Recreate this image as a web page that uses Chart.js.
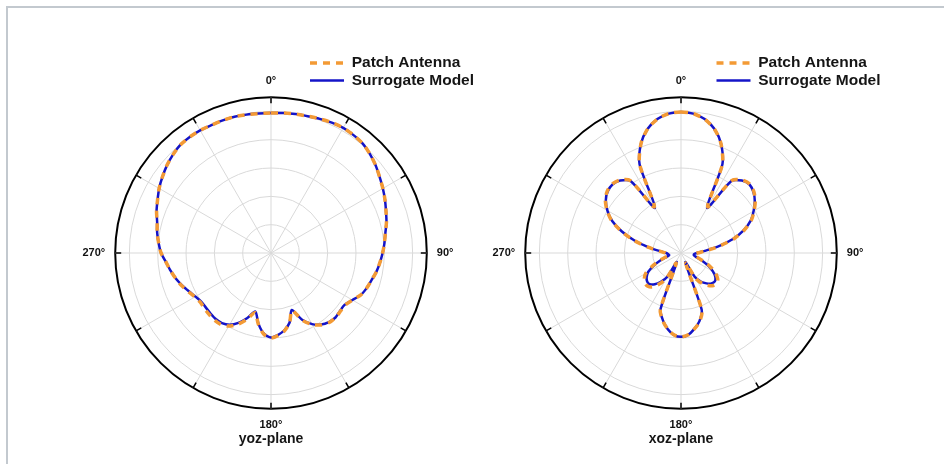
<!DOCTYPE html>
<html>
<head>
<meta charset="utf-8">
<script src="https://cdn.jsdelivr.net/npm/chart.js@4/dist/chart.umd.min.js"></script>
<style>
  html, body { margin: 0; padding: 0; background: #ffffff; }
  body { width: 944px; height: 464px; position: relative; overflow: hidden; }
  #frame { position: absolute; left: 6px; top: 6px; width: 940px; height: 460px;
           border-left: 2px solid #c3c9cf; border-top: 2px solid #c3c9cf; }
  canvas { position: absolute; }
  #yoz { left: 51px; top: 50px; width: 440px; height: 396px; }
  #xoz { left: 461px; top: 50px; width: 440px; height: 396px; }
</style>
</head>
<body>
<div id="frame"></div>
<canvas id="yoz" width="440" height="396"></canvas>
<canvas id="xoz" width="440" height="396"></canvas>
<script>
// ---- data (normalized gain, dB) ----
const angles = [0,5,10,15,20,25,30,35,40,45,50,55,60,65,70,75,80,85,90,95,100,105,110,115,
  120,125,130,135,140,145,150,155,160,165,170,175,180,185,190,195,200,205,210,215,220,225,230,235,
  240,245,250,255,260,265,270,275,280,285,290,295,300,305,310,315,320,325,330,335,340,345,350,355];
const seriesNames = ['Patch Antenna', 'Surrogate Model'];
const planeTitles = ['yoz-plane', 'xoz-plane'];
const ringValues = [-25, -20, -15, -10, -5, 0, 2.5];

const yozPatch = [
  -0.3,-0.2,-0.1,0.0,0.2,0.4,0.5,0.4,0.2,-0.3,-0.9,-1.6,
  -2.2,-2.8,-3.4,-3.9,-4.5,-4.9,-5.3,-5.7,-6.1,-6.6,-7.0,-7.5,
  -8.4,-9.0,-9.0,-8.9,-9.0,-9.5,-10.4,-11.9,-14.2,-12.3,-11.1,-10.4,
  -10.0,-10.6,-12.2,-14.1,-12.5,-11.1,-10.1,-9.6,-9.5,-9.6,-9.7,-9.8,
  -9.5,-8.9,-8.2,-7.6,-7.0,-6.4,-5.6,-5.1,-4.6,-4.2,-3.5,-2.9,
  -2.2,-1.6,-1.0,-0.5,-0.1,0.0,0.0,-0.1,-0.1,-0.1,-0.2,-0.3];
const yozSurrogate = [
  -0.3,-0.2,-0.1,0.0,0.2,0.4,0.5,0.4,0.2,-0.3,-0.9,-1.6,
  -2.2,-2.8,-3.4,-3.9,-4.5,-4.9,-5.3,-5.7,-6.1,-6.6,-7.0,-7.5,
  -8.4,-9.1,-9.1,-8.9,-9.1,-9.6,-10.5,-12.0,-14.3,-12.3,-11.2,-10.5,
  -10.1,-10.7,-12.3,-14.3,-12.8,-11.4,-10.4,-9.9,-9.8,-9.9,-10.0,-10.0,
  -9.6,-9.0,-8.3,-7.6,-7.0,-6.4,-5.6,-5.1,-4.6,-4.2,-3.5,-2.9,
  -2.2,-1.6,-1.0,-0.5,-0.1,0.0,0.0,-0.1,-0.1,-0.1,-0.2,-0.3];

const xozPatch = [
  -0.1,-0.3,-1.0,-2.3,-4.4,-7.7,-15.6,-9.4,-8.2,-7.8,-8.2,-9.0,
  -10.1,-11.3,-13.1,-15.4,-18.2,-20.7,-22.1,-22.6,-22.6,-22.0,-20.8,-19.3,
  -18.0,-17.1,-16.7,-16.9,-17.5,-18.4,-19.8,-23.0,-14.2,-12.4,-11.4,-10.5,
  -10.2,-10.5,-11.4,-12.6,-14.3,-23.0,-19.8,-18.3,-17.2,-16.7,-16.7,-17.1,
  -17.8,-19.3,-20.8,-22.2,-22.8,-22.6,-22.3,-21.2,-19.1,-16.4,-13.8,-11.5,
  -9.9,-8.7,-8.0,-7.8,-8.2,-9.4,-15.6,-7.7,-4.4,-2.3,-1.0,-0.3];
const xozSurrogate = [
  -0.1,-0.3,-1.0,-2.3,-4.4,-7.7,-15.8,-9.5,-8.3,-7.9,-8.3,-9.1,
  -10.2,-11.4,-13.2,-15.5,-18.3,-20.8,-22.2,-22.7,-22.7,-22.2,-21.1,-19.7,
  -18.5,-17.6,-17.2,-17.4,-18.0,-18.8,-20.1,-23.2,-14.3,-12.5,-11.4,-10.5,
  -10.2,-10.5,-11.4,-12.7,-14.4,-23.2,-20.1,-18.8,-17.8,-17.2,-17.2,-17.6,
  -18.3,-19.7,-21.1,-22.4,-22.9,-22.7,-22.4,-21.3,-19.2,-16.5,-13.9,-11.6,
  -10.0,-8.8,-8.1,-7.9,-8.3,-9.5,-15.8,-7.7,-4.4,-2.3,-1.0,-0.3];

// ---- styling ----
const FONT = "'Liberation Sans', Arial, Helvetica, sans-serif";
const ORANGE = '#f39a35';
const BLUE = '#1414c8';
const GRID = '#d9d9d9';
const R_MIN = ringValues[0];
const R_MAX = ringValues[ringValues.length - 1];

// Places the chart's own legend (stacked items) near the top-right of the polar area
const legendPlacer = {
  id: 'legendPlacer',
  afterLayout(chart, args, opts) {
    const lg = chart.legend;
    const r = chart.scales.r;
    if (!lg || !r) return;
    lg.left = r.xCenter + opts.dx;
    lg.top = opts.top;
    lg.width = 210;
    lg.height = 50;
    lg.right = lg.left + lg.width;
    lg.bottom = lg.top + lg.height;
  }
};

// Short black ticks on the outer rim every 30 degrees
const rimTicks = {
  id: 'rimTicks',
  afterDatasetsDraw(chart, args, opts) {
    const r = chart.scales.r;
    const ctx = chart.ctx;
    ctx.save();
    ctx.strokeStyle = '#000';
    ctx.lineWidth = 1.5;
    chart.data.labels.forEach((a, i) => {
      if (a % 30 !== 0) return;
      const p1 = r.getPointPosition(i, r.drawingArea);
      const p2 = r.getPointPosition(i, r.drawingArea - opts.length);
      ctx.beginPath();
      ctx.moveTo(p1.x, p1.y);
      ctx.lineTo(p2.x, p2.y);
      ctx.stroke();
    });
    ctx.restore();
  }
};

// legend items take the dataset's line dash and width
function lineLegendLabels(chart) {
  const base = Chart.defaults.plugins.legend.labels.generateLabels(chart);
  return base.map((item) => {
    const ds = chart.data.datasets[item.datasetIndex];
    return Object.assign(item, {
      strokeStyle: ds.borderColor,
      fillStyle: ds.borderColor,
      lineDash: ds.borderDash || [],
      lineWidth: ds.borderWidth,
      lineCap: 'butt',
      pointStyle: 'line'
    });
  });
}

function makePolar(canvasId, title, patch, surrogate, legendDx) {
  return new Chart(document.getElementById(canvasId), {
    type: 'radar',
    data: {
      labels: angles,
      datasets: [
        { label: seriesNames[0], data: patch, borderColor: ORANGE, backgroundColor: ORANGE,
          borderWidth: 3.5, borderDash: [7, 6], pointRadius: 0, pointHoverRadius: 0,
          fill: false, tension: 0.25 },
        { label: seriesNames[1], data: surrogate, borderColor: BLUE, backgroundColor: BLUE,
          borderWidth: 2.5, pointRadius: 0, pointHoverRadius: 0, fill: false, tension: 0.25 }
      ]
    },
    options: {
      responsive: false,
      animation: false,
      devicePixelRatio: 1,
      layout: { padding: { top: 24, left: 0, right: 0, bottom: 0 } },
      plugins: {
        legend: {
          position: 'chartArea',
          align: 'start',
          labels: {
            usePointStyle: true, pointStyle: 'line', pointStyleWidth: 34,
            padding: 2, color: '#151515',
            font: { family: FONT, size: 15.5, weight: 'bold' },
            generateLabels: lineLegendLabels
          }
        },
        title: {
          display: true, position: 'bottom', text: title, color: '#151515', padding: 0,
          font: { family: FONT, size: 14, weight: 'bold', lineHeight: 1 }
        },
        tooltip: { enabled: false },
        legendPlacer: { dx: legendDx, top: 3.25 },
        rimTicks: { length: 6 }
      },
      scales: {
        r: {
          min: R_MIN,
          max: R_MAX,
          afterBuildTicks: (s) => { s.ticks = ringValues.map(v => ({ value: v })); },
          ticks: { display: false },
          grid: {
            circular: true,
            color: (c) => (c.tick && c.tick.value === R_MAX) ? '#000000' : GRID,
            lineWidth: (c) => (c.tick && c.tick.value === R_MAX) ? 2 : 1
          },
          angleLines: {
            display: true,
            color: (c) => (angles[c.index] % 30 === 0) ? GRID : 'rgba(0,0,0,0)',
            lineWidth: 1
          },
          pointLabels: {
            padding: 10,
            color: '#111111',
            font: { family: FONT, size: 11, weight: 'bold' },
            callback: (v) => (v % 90 === 0) ? v + '°' : ''
          }
        }
      }
    },
    plugins: [legendPlacer, rimTicks]
  });
}

makePolar('yoz', planeTitles[0], yozPatch, yozSurrogate, 37);
makePolar('xoz', planeTitles[1], xozPatch, xozSurrogate, 33.5);
</script>
</body>
</html>
